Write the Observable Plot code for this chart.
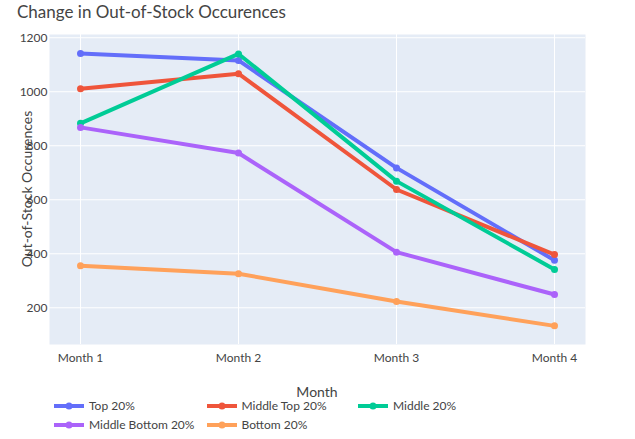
<!DOCTYPE html>
<html>
<head>
<meta charset="utf-8">
<script src="https://cdn.jsdelivr.net/npm/d3@7"></script>
<script src="https://cdn.jsdelivr.net/npm/@observablehq/plot@0.6"></script>
<style>
  html, body { margin: 0; padding: 0; background: #fff; }
  #wrap { position: relative; width: 635px; height: 439px; font-family: Lato, "Open Sans", sans-serif; color: #444; overflow: hidden; }
  #wrap svg.chart { position: absolute; left: 0; top: 0; }
  .abs { position: absolute; white-space: nowrap; line-height: 1; }
  .item { position: absolute; display: flex; align-items: center; height: 18px; font-size: 12px; line-height: 18px; }
  .item svg { margin-right: 5px; }
</style>
</head>
<body>
<div id="wrap"></div>
<script>
const months = ["Month 1", "Month 2", "Month 3", "Month 4"];
const seriesNames = ["Top 20%", "Middle Top 20%", "Middle 20%", "Middle Bottom 20%", "Bottom 20%"];
const top20 = [1142, 1116, 718, 376];
const middleTop20 = [1011, 1067, 638, 397];
const middle20 = [883, 1140, 669, 342];
const middleBottom20 = [868, 773, 406, 249];
const bottom20 = [356, 326, 223, 133];
const seriesColors = ["#636efa", "#EF553B", "#00cc96", "#ab63fa", "#FFA15A"];
const yTicks = [200, 400, 600, 800, 1000, 1200];

const seriesValues = [top20, middleTop20, middle20, middleBottom20, bottom20];
const data = [];
seriesNames.forEach((s, i) => months.forEach((m, j) => data.push({series: s, month: m, value: seriesValues[i][j]})));

const wrap = document.getElementById("wrap");

const seriesMarks = [];
seriesNames.forEach(s => {
  const d = data.filter(r => r.series === s);
  seriesMarks.push(Plot.line(d, {x: "month", y: "value", stroke: "series", strokeWidth: 4, strokeLinejoin: "round", strokeLinecap: "round"}));
  seriesMarks.push(Plot.dot(d, {x: "month", y: "value", fill: "series", r: 3.5, stroke: null}));
});

const chart = Plot.plot({
  width: 635,
  height: 375,
  marginLeft: 49,
  marginRight: 50,
  marginTop: 34,
  marginBottom: 31,
  style: {fontFamily: "Lato, 'Open Sans', sans-serif", fontSize: "12px", color: "#444", background: "transparent"},
  x: {type: "point", domain: months, padding: 0.19, label: null},
  y: {domain: [64, 1212], label: null},
  color: {domain: seriesNames, range: seriesColors},
  marks: [
    Plot.frame({fill: "#E5ECF6", stroke: null}),
    Plot.gridX(months, {stroke: "white", strokeOpacity: 1, strokeWidth: 1}),
    Plot.gridY(yTicks, {stroke: "white", strokeOpacity: 1, strokeWidth: 1}),
    Plot.axisX({tickSize: 0, tickPadding: 9, label: null, fill: "#444"}),
    Plot.axisY(yTicks, {tickSize: 0, tickPadding: 2, label: null, fill: "#444", tickFormat: d3.format("d")}),
    ...seriesMarks
  ]
});
chart.classList.add("chart");
wrap.appendChild(chart);

function addText(txt, css) {
  const d = document.createElement("div");
  d.className = "abs";
  d.textContent = txt;
  Object.assign(d.style, css);
  wrap.appendChild(d);
  return d;
}

addText("Change in Out-of-Stock Occurences", {left: "17px", top: "3px", fontSize: "17px"});
addText("Month", {left: "317px", top: "385px", fontSize: "14px", transform: "translateX(-50%)"});
addText("Out-of-Stock Occurences", {left: "26.5px", top: "189px", fontSize: "14px", transform: "translate(-50%, -50%) rotate(-90deg)"});

const legendPos = [[54, 406], [206.5, 406], [358, 406], [54, 425], [206.5, 425]];
seriesNames.forEach((s, i) => {
  const it = document.createElement("div");
  it.className = "item";
  it.style.left = legendPos[i][0] + "px";
  it.style.top = (legendPos[i][1] - 9) + "px";
  const ns = "http://www.w3.org/2000/svg";
  const sv = document.createElementNS(ns, "svg");
  sv.setAttribute("width", 30); sv.setAttribute("height", 10);
  const ln = document.createElementNS(ns, "line");
  ln.setAttribute("x1", 0); ln.setAttribute("x2", 30); ln.setAttribute("y1", 5); ln.setAttribute("y2", 5);
  ln.setAttribute("stroke", seriesColors[i]); ln.setAttribute("stroke-width", 4);
  const c = document.createElementNS(ns, "circle");
  c.setAttribute("cx", 15); c.setAttribute("cy", 5); c.setAttribute("r", 3.5); c.setAttribute("fill", seriesColors[i]);
  sv.appendChild(ln); sv.appendChild(c);
  it.appendChild(sv);
  const t = document.createElement("span");
  t.textContent = s;
  it.appendChild(t);
  wrap.appendChild(it);
});
</script>
</body>
</html>
